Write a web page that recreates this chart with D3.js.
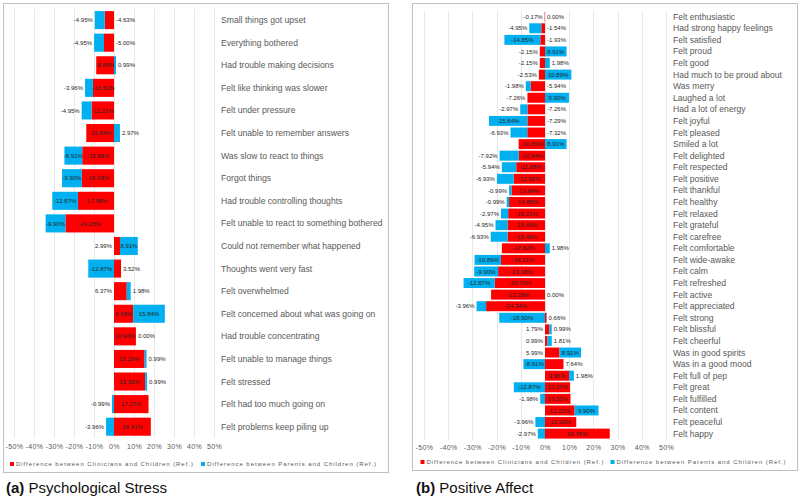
<!DOCTYPE html>
<html><head><meta charset="utf-8">
<script src="https://cdn.jsdelivr.net/npm/d3@7"></script>
<style>
body{margin:0;background:#fff;}
svg{display:block;font-family:"Liberation Sans",Arial,Helvetica,sans-serif;}
</style></head>
<body>
<svg id="chart" width="800" height="497"></svg>
<script>
// ---------- DATA ----------
const seriesNames = ["Difference between Clinicians and Children (Ref.)", "Difference between Parents and Children (Ref.)"];
const tickValues = [-50, -40, -30, -20, -10, 0, 10, 20, 30, 40, 50];

const stressCategories = ["Small things got upset","Everything bothered","Had trouble making decisions","Felt like thinking was slower","Felt under pressure","Felt unable to remember answers","Was slow to react to things","Forgot things","Had trouble controlling thoughts","Felt unable to react to something bothered","Could not remember what happened","Thoughts went very fast","Felt overwhelmed","Felt concerned about what was going on","Had trouble concentrating","Felt unable to manage things","Felt stressed","Felt had too much going on","Felt problems keep piling up"];
const stressClinicians = [-4.63,-5.00,-8.89,-10.52,-11.21,-13.86,-15.88,-16.08,-17.98,-24.28,2.99,3.52,6.37,9.58,10.96,15.29,15.55,17.27,18.41];
const stressParents = [-4.95,-4.95,0.99,-3.96,-4.95,2.97,-8.91,-9.90,-12.87,-9.90,8.91,-12.87,1.98,15.84,0.00,0.99,0.99,-0.99,-3.96];

const affectCategories = ["Felt enthusiastic","Had strong happy feelings","Felt satisfied","Felt proud","Felt good","Had much to be proud about","Was merry","Laughed a lot","Had a lot of energy","Felt joyful","Felt pleased","Smiled a lot","Felt delighted","Felt respected","Felt positive","Felt thankful","Felt healthy","Felt relaxed","Felt grateful","Felt carefree","Felt comfortable","Felt wide-awake","Felt calm","Felt refreshed","Felt active","Felt appreciated","Felt strong","Felt blissful","Felt cheerful","Was in good spirits","Was in a good mood","Felt full of pep","Felt great","Felt fulfilled","Felt content","Felt peaceful","Felt happy"];
const affectClinicians = [-0.17,-1.54,-1.93,-2.15,-2.15,-2.53,-5.94,-7.26,-7.26,-7.29,-7.32,-10.89,-10.84,-11.88,-12.92,-13.84,-14.85,-15.21,-15.49,-15.49,-17.82,-18.21,-19.38,-20.79,-22.28,-24.34,0.66,1.79,0.99,5.99,7.64,9.95,10.37,10.53,12.22,12.92,26.76];
const affectParents = [0.00,-4.95,-14.85,8.91,1.98,10.89,-1.98,9.90,-2.97,-15.84,-6.93,8.91,-7.92,-5.94,-6.93,-0.99,-0.99,-2.97,-4.95,-6.93,1.98,-10.89,-9.90,-12.87,0.00,-3.96,-18.90,0.99,1.81,8.91,-8.91,1.98,-12.87,-1.98,9.90,-3.96,-2.97];

const colors = ["#ff0000", "#00b0f0"];

const svg = d3.select("#chart");
const fmt = v => v.toFixed(2) + "%";

function panel(cfg) {
  const g = svg.append("g");
  // frame
  g.append("rect").attr("x", cfg.box[0]+0.5).attr("y", cfg.box[1]+0.5)
    .attr("width", cfg.box[2]-cfg.box[0]).attr("height", cfg.box[3]-cfg.box[1])
    .attr("fill", "none").attr("stroke", "#bfbfbf").attr("stroke-width", 1);

  const x = d3.scaleLinear().domain([-50, 50]).range(cfg.xRange);
  const y = d3.scaleBand().domain(cfg.categories).range(cfg.yRange)
    .paddingInner(cfg.pad).paddingOuter(cfg.pad / 2);

  // gridlines
  g.append("g").selectAll("line").data(tickValues).join("line")
    .attr("x1", d => Math.round(x(d)) + 0.5).attr("x2", d => Math.round(x(d)) + 0.5)
    .attr("y1", cfg.yRange[0]).attr("y2", cfg.yRange[1])
    .attr("stroke", "#e8e8e8").attr("stroke-width", 1);

  const rows = cfg.categories.map((c, i) => ({cat: c, a: cfg.clin[i], b: cfg.par[i]}));
  const stack = d3.stack().keys(["a", "b"]).offset(d3.stackOffsetDiverging);
  const layers = stack(rows);

  layers.forEach((layer, li) => {
    g.append("g").selectAll("rect").data(layer).join("rect")
      .attr("x", d => x(Math.min(d[0], d[1])))
      .attr("width", d => Math.abs(x(d[1]) - x(d[0])))
      .attr("y", d => y(d.data.cat))
      .attr("height", y.bandwidth())
      .attr("fill", colors[li]);
  });

  // data labels
  const lab = g.append("g").attr("font-size", cfg.labelSize + "px").attr("fill", "#262626");
  const pad = 2;
  layers.forEach((layer, li) => {
    layer.forEach(d => {
      const r = d.data;
      const v = li === 0 ? r.a : r.b;
      const x0 = x(d[0]), x1 = x(d[1]);
      const w = Math.abs(x1 - x0);
      const cy = y(r.cat) + y.bandwidth() / 2;
      let tx, anchor;
      if (w >= cfg.insideMin) {
        tx = (x0 + x1) / 2; anchor = "middle";
      } else if (li === 1) {
        if (v > 0) { tx = Math.max(x0, x1) + pad; anchor = "start"; }
        else if (v < 0) { tx = Math.min(x0, x1) - pad; anchor = "end"; }
        else { tx = x(Math.max(0, r.a)) + pad; anchor = "start"; }
      } else {
        if (r.b >= 0) { tx = x(Math.min(0, r.a)) - pad; anchor = "end"; }
        else { tx = x(Math.max(0, r.a)) + pad; anchor = "start"; }
      }
      lab.append("text").attr("x", tx).attr("y", cy).attr("dy", "0.35em")
        .attr("text-anchor", anchor).text(fmt(v));
    });
  });

  // category labels
  g.append("g").selectAll("text").data(cfg.categories).join("text")
    .attr("x", cfg.catX).attr("y", d => y(d) + y.bandwidth() / 2).attr("dy", "0.35em")
    .attr("font-size", cfg.catSize + "px").attr("fill", "#595959").text(d => d);

  // axis tick labels
  const ax = g.append("g").attr("transform", `translate(0,${cfg.axisY})`)
    .call(d3.axisBottom(x).tickValues(tickValues).tickSize(0).tickPadding(0).tickFormat(d => d + "%"));
  ax.select(".domain").remove();
  ax.selectAll("text").attr("font-size", "7px").attr("fill", "#595959")
    .attr("font-family", "Liberation Sans, Arial, sans-serif").attr("letter-spacing", "0.4px");

  // legend
  const lg = g.append("g").attr("font-size", "6px").attr("fill", "#595959").attr("letter-spacing", "0.95px");
  seriesNames.forEach((s, i) => {
    lg.append("rect").attr("x", cfg.legX[i]).attr("y", cfg.legY - 2).attr("width", 4).attr("height", 4).attr("fill", colors[i]);
    lg.append("text").attr("x", cfg.legX[i] + 6).attr("y", cfg.legY).attr("dy", "0.35em").text(s);
  });

  // title
  const t = svg.append("text").attr("x", cfg.titleX).attr("y", 493).attr("font-size", "15px").attr("fill", "#111");
  t.append("tspan").attr("font-weight", "bold").text(cfg.title[0]);
  t.append("tspan").text(" " + cfg.title[1]);
}

panel({
  categories: stressCategories, clin: stressClinicians, par: stressParents,
  box: [3, 3, 388, 472], xRange: [14, 214], yRange: [8.8, 438], pad: 0.2,
  insideMin: 15, labelSize: 6, catX: 221, catSize: 8.6, axisY: 444,
  legX: [10, 201], legY: 464, title: ["(a)", "Psychological Stress"], titleX: 6
});
panel({
  categories: affectCategories, clin: affectClinicians, par: affectParents,
  box: [412, 3, 797, 470], xRange: [424, 666], yRange: [10.9, 439.4], pad: 0.14,
  insideMin: 20, labelSize: 6, catX: 673, catSize: 8.6, axisY: 445,
  legX: [420.5, 610.5], legY: 462, title: ["(b)", "Positive Affect"], titleX: 416
});
</script>
</body></html>
